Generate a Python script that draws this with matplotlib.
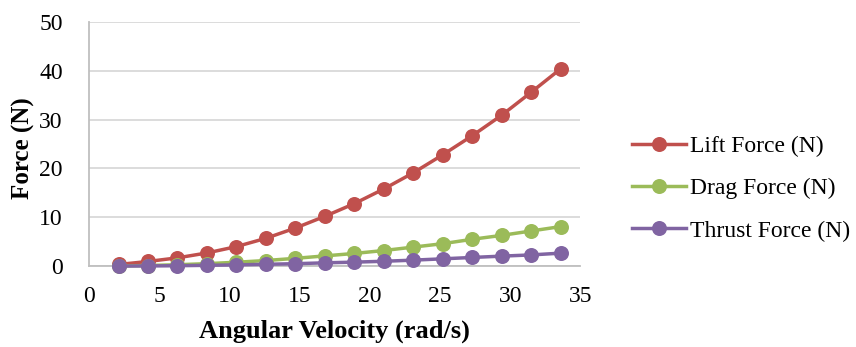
import matplotlib
matplotlib.use("Agg")
import matplotlib.pyplot as plt

omega = [2.1, 4.2, 6.3, 8.4, 10.5, 12.6, 14.7, 16.8, 18.9, 21.0, 23.1, 25.2, 27.3, 29.4, 31.5, 33.6]
lift = [0.34, 0.96, 1.7, 2.7, 4.0, 5.7, 7.8, 10.2, 12.8, 15.8, 19.1, 22.8, 26.7, 30.9, 35.6, 40.4]
drag = [0.03, 0.13, 0.29, 0.51, 0.8, 1.15, 1.6, 2.1, 2.6, 3.2, 3.9, 4.6, 5.5, 6.3, 7.2, 8.1]
thrust = [0.01, 0.04, 0.09, 0.17, 0.26, 0.38, 0.5, 0.68, 0.82, 1.0, 1.23, 1.5, 1.78, 2.05, 2.3, 2.66]
labels = ["Lift Force (N)", "Drag Force (N)", "Thrust Force (N)"]
colors = ["#C0504D", "#9BBB59", "#8064A2"]
xticks = [0, 5, 10, 15, 20, 25, 30, 35]
yticks = [0, 10, 20, 30, 40, 50]

plt.rcParams['font.family'] = ['Liberation Serif', 'DejaVu Serif']

fig = plt.figure(figsize=(8.56, 3.47), dpi=100)
ax = fig.add_axes([0.104, 0.233, 0.574, 0.704])

for series, lab, c in zip([lift, drag, thrust], labels, colors):
    ax.plot(omega, series, color=c, lw=2.5, marker='o', markersize=10.8,
            markeredgewidth=0, label=lab, clip_on=False, zorder=3)

ax.set_xlim(0, 35)
ax.set_ylim(0, 50)
ax.set_xticks(xticks)
ax.set_yticks(yticks)
ax.tick_params(axis='both', length=0, labelsize=17, colors='black')
ax.tick_params(axis='x', pad=14)
ax.tick_params(axis='y', pad=19)
ax.yaxis.grid(True, color='#D9D9D9', lw=1.3)
ax.set_axisbelow(True)
for s in ['top', 'right']:
    ax.spines[s].set_visible(False)
for s in ['left', 'bottom']:
    ax.spines[s].set_color('#BFBFBF')
    ax.spines[s].set_linewidth(1.3)

fig.text(334 / 856, 1 - 331 / 347, "Angular Velocity (rad/s)", fontsize=19,
         fontweight='bold', ha='center', va='center')
fig.text(23 / 856, 1 - 148 / 347, "Force (N)", fontsize=18, fontweight='bold',
         ha='center', va='center', rotation=90)

leg = ax.legend(loc='center left', bbox_to_anchor=(622.6 / 856, 1 - 188.5 / 347),
                bbox_transform=fig.transFigure, frameon=False,
                fontsize=17, handlelength=2.3, labelspacing=0.88, handletextpad=0.17,
                borderaxespad=0)

fig.savefig("out.png", dpi=100)
